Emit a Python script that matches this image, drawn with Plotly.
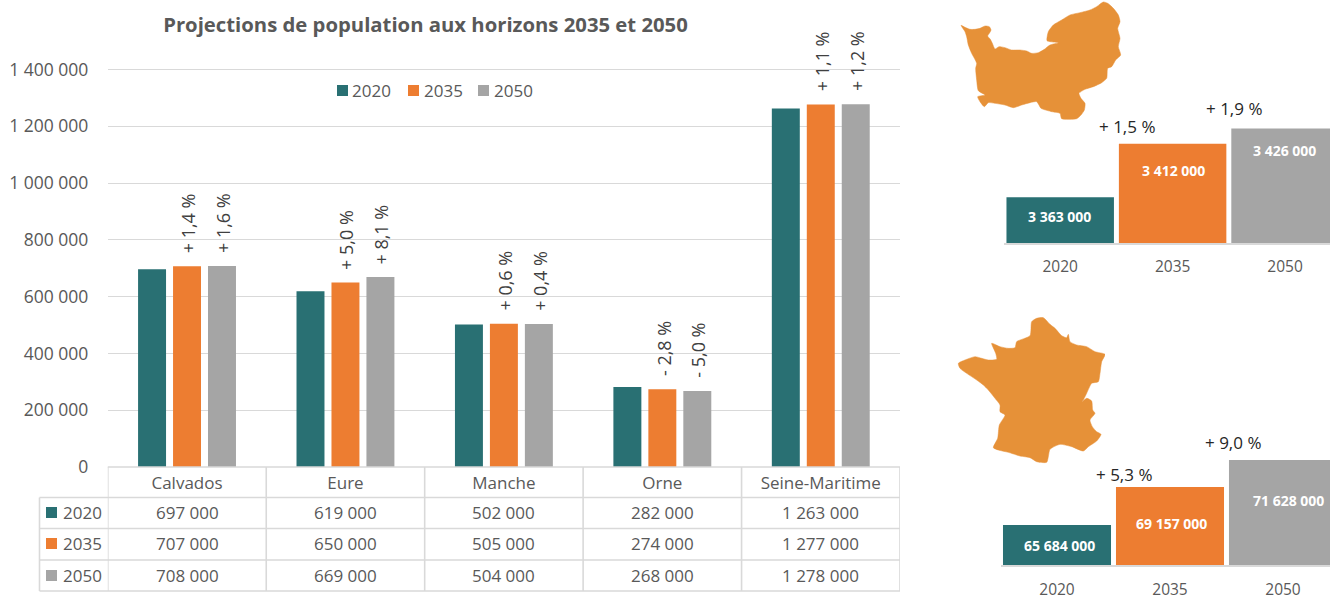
import plotly.graph_objects as go

W, H = 1330, 595
FONT = "Open Sans"
TEAL, ORANGE, GRAY = "#297073", "#ED7D31", "#A5A5A5"
MAPC = "#E69138"
GRID = "#D9D9D9"
TXT = "#595959"

departments = ["Calvados", "Eure", "Manche", "Orne", "Seine-Maritime"]
years = ["2020", "2035", "2050"]
pop_2020 = [697000, 619000, 502000, 282000, 1263000]
pop_2035 = [707000, 650000, 505000, 274000, 1277000]
pop_2050 = [708000, 669000, 504000, 268000, 1278000]
evol_2035 = ["+ 1,4 %", "+ 5,0 %", "+ 0,6 %", "- 2,8 %", "+ 1,1 %"]
evol_2050 = ["+ 1,6 %", "+ 8,1 %", "+ 0,4 %", "- 5,0 %", "+ 1,2 %"]
y_ticks = [0, 200000, 400000, 600000, 800000, 1000000, 1200000, 1400000]

normandie = [3363000, 3412000, 3426000]
normandie_evol = ["", "+ 1,5 %", "+ 1,9 %"]
france = [65684000, 69157000, 71628000]
france_evol = ["", "+ 5,3 %", "+ 9,0 %"]

normandie_x = [18,30,45,60,75,90,103,108,103,98,106,112,120,132,150,170,195,215,230,250,268,285,310,285,276,280,295,320,345,375,405,425,445,458,475,490,495,488,495,490,497,482,470,458,455,440,415,390,372,378,390,388,378,365,320,315,290,265,258,245,225,200,175,150,120,100,88,75,68,90,70,65,62,65,50,40,35,30,18]
normandie_y = [76,82,88,88,85,78,80,90,100,108,118,130,147,140,143,150,150,153,160,158,148,135,128,125,122,95,75,60,45,38,30,20,6,10,25,45,65,85,115,140,165,180,200,205,235,248,260,268,280,295,310,330,345,356,356,340,335,328,325,305,308,315,323,315,310,308,320,305,290,285,272,240,205,190,160,135,110,95,76]
france_x = [265,285,300,320,335,340,345,365,395,420,450,440,435,430,410,395,385,380,395,410,413,420,405,412,425,438,425,400,385,350,315,285,280,275,245,225,195,160,130,115,128,133,150,135,135,120,100,85,65,35,15,10,30,60,80,100,125,122,110,135,160,180,185,225,230,245,265]
france_y = [8,28,40,62,68,58,80,90,95,110,118,140,175,200,205,235,255,262,250,258,285,295,315,335,350,358,378,395,408,395,388,403,425,442,440,428,423,412,405,398,370,330,300,290,270,250,225,210,195,175,160,145,135,125,130,135,133,115,85,95,100,98,80,62,20,10,8]


def fmt(v):
    return f"{v:,}".replace(",", " ")


def px(x):
    return x / W


def py(y):
    return 1 - y / H


fig = go.Figure()
for name, vals, col in zip(years, [pop_2020, pop_2035, pop_2050], [TEAL, ORANGE, GRAY]):
    fig.add_trace(go.Bar(name=name, x=departments, y=vals, marker=dict(color=col, line_width=0),
                         xaxis="x", yaxis="y", showlegend=False))

for vals, xa, ya in [(normandie, "x2", "y2"), (france, "x3", "y3")]:
    fig.add_trace(go.Bar(x=years, y=vals, marker=dict(color=[TEAL, ORANGE, GRAY], line_width=0),
                         xaxis=xa, yaxis=ya, showlegend=False, width=0.956))

MAP_LINE = dict(color=MAPC, width=0.5, shape="spline", smoothing=0.6)
fig.add_trace(go.Scatter(x=normandie_x, y=normandie_y, mode="lines", fill="toself", fillcolor=MAPC,
                         line=MAP_LINE, xaxis="x4", yaxis="y4", showlegend=False, hoverinfo="skip"))
fig.add_trace(go.Scatter(x=france_x, y=france_y, mode="lines", fill="toself", fillcolor=MAPC,
                         line=MAP_LINE, xaxis="x5", yaxis="y5", showlegend=False, hoverinfo="skip"))

ann = []
shapes = []


def text(x, y, s, size=17, color=TXT, xref="paper", yref="paper", weight=None, **kw):
    f = dict(family=FONT, size=size, color=color)
    if weight:
        f["weight"] = weight
    kw.setdefault("xanchor", "center")
    kw.setdefault("yanchor", "middle")
    ann.append(dict(x=x, y=y, text=s, xref=xref, yref=yref, showarrow=False, font=f, **kw))


# Rotated change labels above the bars of the main chart
PITCH = 35 / 158.4
for i in range(5):
    text(i, pop_2035[i], evol_2035[i], size=18, color="#404040", xref="x", yref="y", textangle=-90,
         yanchor="bottom", yshift=11, xshift=1)
    text(i + PITCH, pop_2050[i], evol_2050[i], size=18, color="#404040", xref="x", yref="y", textangle=-90,
         yanchor="bottom", yshift=11, xshift=1)

# Data table below the main chart
XL, X0, X1 = 39.5, 107.8, 900
ROWS = [467, 497.5, 528.5, 560, 591]
ROWT = [512.5, 543.5, 575.5]
LINE = dict(color=GRID, width=1.6)
for i in range(6):
    shapes.append(dict(type="line", xref="x", yref="paper", x0=i - 0.5, x1=i - 0.5,
                       y0=py(ROWS[0]), y1=py(ROWS[-1]), line=LINE))
shapes.append(dict(type="line", xref="paper", yref="paper", x0=px(XL), x1=px(XL),
                   y0=py(ROWS[1]), y1=py(ROWS[-1]), line=LINE))
for j, r in enumerate(ROWS):
    shapes.append(dict(type="line", xref="paper", yref="paper", x0=px(X0 if j == 0 else XL), x1=px(X1),
                       y0=py(r), y1=py(r), line=LINE))
for name, vals, col, ry in zip(years, [pop_2020, pop_2035, pop_2050], [TEAL, ORANGE, GRAY], ROWT):
    shapes.append(dict(type="rect", xref="paper", yref="paper", x0=px(46), x1=px(57),
                       y0=py(ry - 5.5), y1=py(ry + 5.5), fillcolor=col, line_width=0))
    text(px(82), py(ry - 0.5), name)
    for i, v in enumerate(vals):
        text(i, py(ry), fmt(v), xref="x")

# Legend area with its white gap in the top gridline
shapes.append(dict(type="rect", xref="paper", yref="paper", x0=px(320), x1=px(542),
                   y0=py(66), y1=py(110), fillcolor="white", line_width=0, layer="below"))
for name, col, sx, tx in zip(years, [TEAL, ORANGE, GRAY], [337, 408, 478], [372, 443, 513]):
    shapes.append(dict(type="rect", xref="paper", yref="paper", x0=px(sx), x1=px(sx + 11),
                       y0=py(96), y1=py(85), fillcolor=col, line_width=0))
    text(px(tx), py(90.5), name)

# Small charts: value labels and change labels
INNER_N = [-19, -27, -22]
INNER_F = [-20, -36, -41]
for i in range(3):
    text(i, normandie[i], fmt(normandie[i]), size=14, color="white", xref="x2", yref="y2",
         yshift=INNER_N[i], xshift=[-1, 1, -1][i], weight=700)
    text(i, france[i], fmt(france[i]), size=14, color="white", xref="x3", yref="y3",
         yshift=INNER_F[i], xshift=[2, 1, 6][i], weight=700)
for i, (sx, sy) in zip([1, 2], [(-46, 17), (-51, 20)]):
    text(i, normandie[i], normandie_evol[i], size=17, color="#262626", xref="x2", yref="y2", xshift=sx, yshift=sy)
for i, (sx, sy) in zip([1, 2], [(-46, 13), (-50, 17)]):
    text(i, france[i], france_evol[i], size=17, color="#262626", xref="x3", yref="y3", xshift=sx, yshift=sy)

# Axis pixel frames
y0_px, y_top = 467, 30
px_per = (467 - 69.6) / 1400000
main_max = (y0_px - y_top) / px_per

hidden = dict(visible=False, fixedrange=True, automargin=False)
fig.update_layout(
    template="none",
    width=W, height=H, margin=dict(l=0, r=0, t=0, b=0, pad=0), autosize=False,
    paper_bgcolor="white", plot_bgcolor="rgba(0,0,0,0)",
    font=dict(family=FONT, color=TXT, size=17),
    title=dict(text="<b>Projections de population aux horizons 2035 et 2050</b>",
               x=425.5 / W, xanchor="center", y=1 - 25 / H, yanchor="middle",
               font=dict(family=FONT, size=20.3, color=TXT)),
    showlegend=False,
    barmode="group", bargap=0.338, bargroupgap=0.2,
    xaxis=dict(domain=[X0 / W, X1 / W], anchor="y", type="category", range=[-0.5, 4.5], automargin=False,
               showline=False, showgrid=False, zeroline=False, ticks="outside", ticklen=1, tickcolor="rgba(0,0,0,0)",
               tickfont=dict(family=FONT, size=17, color=TXT)),
    yaxis=dict(domain=[py(y0_px), py(y_top)], anchor="x", range=[0, main_max], automargin=False,
               tickvals=y_ticks, ticktext=[fmt(v) for v in y_ticks], showgrid=True, gridcolor=GRID,
               gridwidth=1.2, zeroline=False, showline=False, ticks="outside", ticklen=15,
               tickcolor="rgba(0,0,0,0)", tickfont=dict(family=FONT, size=17.5, color=TXT)),
    xaxis2=dict(domain=[1004 / W, 1], anchor="y2", type="category", range=[-0.5, 2.4], automargin=False,
                showline=True, linecolor=GRID, linewidth=1.5, showgrid=False, zeroline=False, ticks="outside", ticklen=9,
                tickcolor="rgba(0,0,0,0)", tickfont=dict(family=FONT, size=15.5, color=TXT)),
    yaxis2=dict(domain=[py(243), py(118)], anchor="x2", range=[3321000, 3321000 + 125 / 1.0896 * 1000],
                visible=False, automargin=False),
    xaxis3=dict(domain=[1000.5 / W, 1], anchor="y3", type="category", range=[-0.5, 2.416], automargin=False,
                showline=True, linecolor=GRID, linewidth=1.5, showgrid=False, zeroline=False, ticks="outside", ticklen=10,
                tickcolor="rgba(0,0,0,0)", tickfont=dict(family=FONT, size=15.5, color=TXT)),
    yaxis3=dict(domain=[py(565), py(450)], anchor="x3", range=[62028000, 62028000 + 115 / 0.01094 * 1000],
                visible=False, automargin=False),
    xaxis4=dict(domain=[955 / W, 1125 / W], anchor="y4", range=[0, 510], **hidden),
    yaxis4=dict(domain=[py(122), 1], anchor="x4", range=[366, 0], **hidden),
    xaxis5=dict(domain=[955 / W, 1105 / W], anchor="y5", range=[0, 450], **hidden),
    yaxis5=dict(domain=[py(465), py(315)], anchor="x5", range=[450, 0], **hidden),
    annotations=ann, shapes=shapes,
)

fig.write_html("out.html", config={"displayModeBar": False},
               post_script="document.body.style.margin='0';document.body.style.overflow='hidden';")
